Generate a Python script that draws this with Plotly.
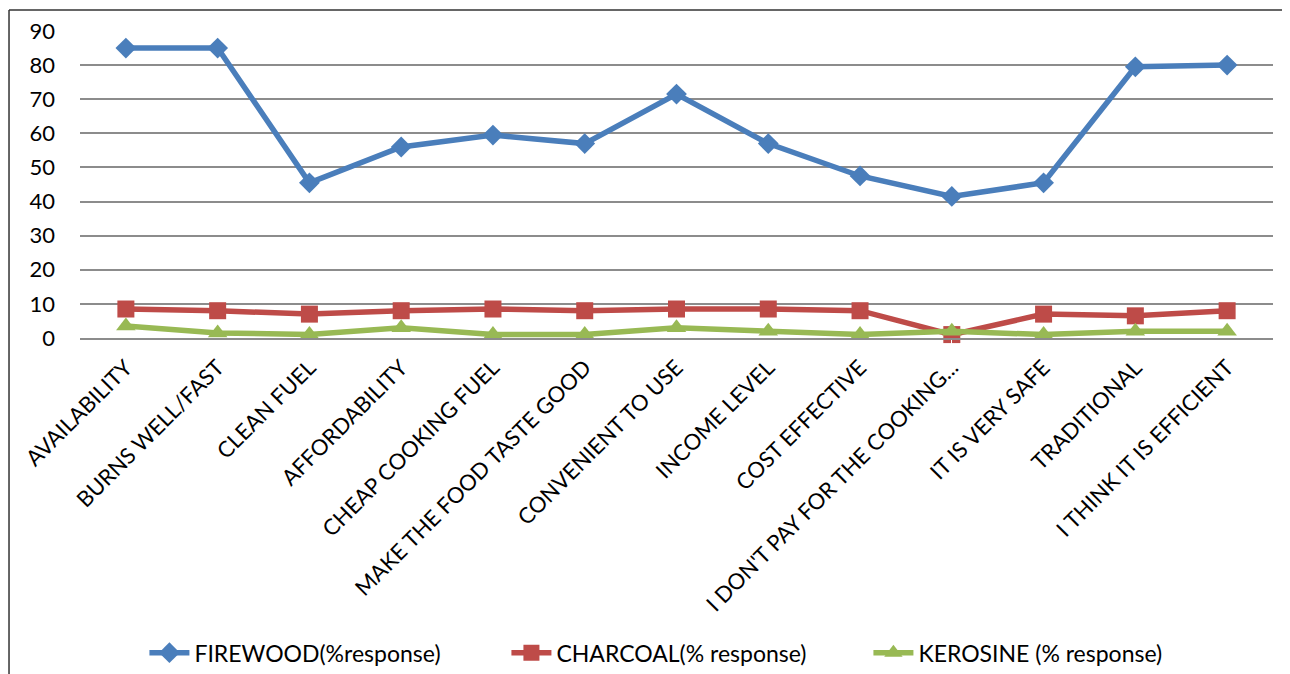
import plotly.graph_objects as go

categories = ["AVAILABILITY", "BURNS WELL/FAST", "CLEAN FUEL", "AFFORDABILITY",
              "CHEAP COOKING FUEL", "MAKE THE FOOD TASTE GOOD", "CONVENIENT TO USE",
              "INCOME LEVEL", "COST EFFECTIVE", "I DON'T PAY FOR THE COOKING...",
              "IT IS VERY SAFE", "TRADITIONAL", "I THINK IT IS EFFICIENT"]
firewood = [85, 85, 45.5, 56, 59.5, 57, 71.5, 57, 47.5, 41.5, 45.5, 79.5, 80]
charcoal = [8.5, 8, 7, 8, 8.5, 8, 8.5, 8.5, 8, 1, 7, 6.5, 8]
kerosine = [3.5, 1.5, 1, 3, 1, 1, 3, 2, 1, 2, 1, 2, 2]
y_ticks = [0, 10, 20, 30, 40, 50, 60, 70, 80, 90]

FONT = "Lato"

fig = go.Figure()
fig.add_trace(go.Scatter(x=categories, y=firewood, name="FIREWOOD(%response)",
                         mode="lines+markers", cliponaxis=False,
                         line=dict(color="#4A7EBB", width=5.5),
                         marker=dict(symbol="diamond", size=16, color="#4A7EBB")))
fig.add_trace(go.Scatter(x=categories, y=charcoal, name="CHARCOAL(% response)",
                         mode="lines+markers", cliponaxis=False,
                         line=dict(color="#BE4B48", width=5.5),
                         marker=dict(symbol="square", size=17, color="#BE4B48")))
fig.add_trace(go.Scatter(x=categories, y=kerosine, name="KEROSINE (% response)",
                         mode="lines+markers", cliponaxis=False,
                         line=dict(color="#98B954", width=5.5),
                         marker=dict(symbol="triangle-up", size=17, color="#98B954")))

fig.update_layout(
    width=1282, height=666,
    margin=dict(l=72, r=17, t=23, b=335.5),
    paper_bgcolor="white", plot_bgcolor="white",
    font=dict(family=FONT, size=22, color="#000000"),
    showlegend=True,
    legend=dict(orientation="h", x=0.054, xanchor="left", y=0.032, yref="container",
                yanchor="middle", font=dict(family=FONT, size=23, color="#000000"),
                itemwidth=40, entrywidth=307, entrywidthmode="pixels",
                traceorder="normal"),
    xaxis=dict(type="category", range=[-0.5, 12.5], tickangle=-45,
               showgrid=False, showline=True, linecolor="#8C8C8C", linewidth=2,
               tickfont=dict(family=FONT, size=22, color="#000000"),
               ticks="outside", ticklen=6, tickcolor="white", automargin=False),
    yaxis=dict(range=[0, 90], tickvals=y_ticks, showgrid=True, gridcolor="#8C8C8C",
               gridwidth=2, zeroline=False, showline=False, ticks="",
               tickfont=dict(family=FONT, size=22, color="#000000"),
               ticklabelstandoff=24, automargin=False),
    shapes=[
        dict(type="line", xref="paper", yref="paper", x0=-0.0595, x1=-0.0595,
             y0=1.068, y1=-1.2, line=dict(color="#333333", width=1.5)),
        dict(type="line", xref="paper", yref="paper", x0=-0.0595, x1=1.1,
             y0=1.068, y1=1.068, line=dict(color="#333333", width=1.5)),
    ],
)

fig.write_html("out.html")
